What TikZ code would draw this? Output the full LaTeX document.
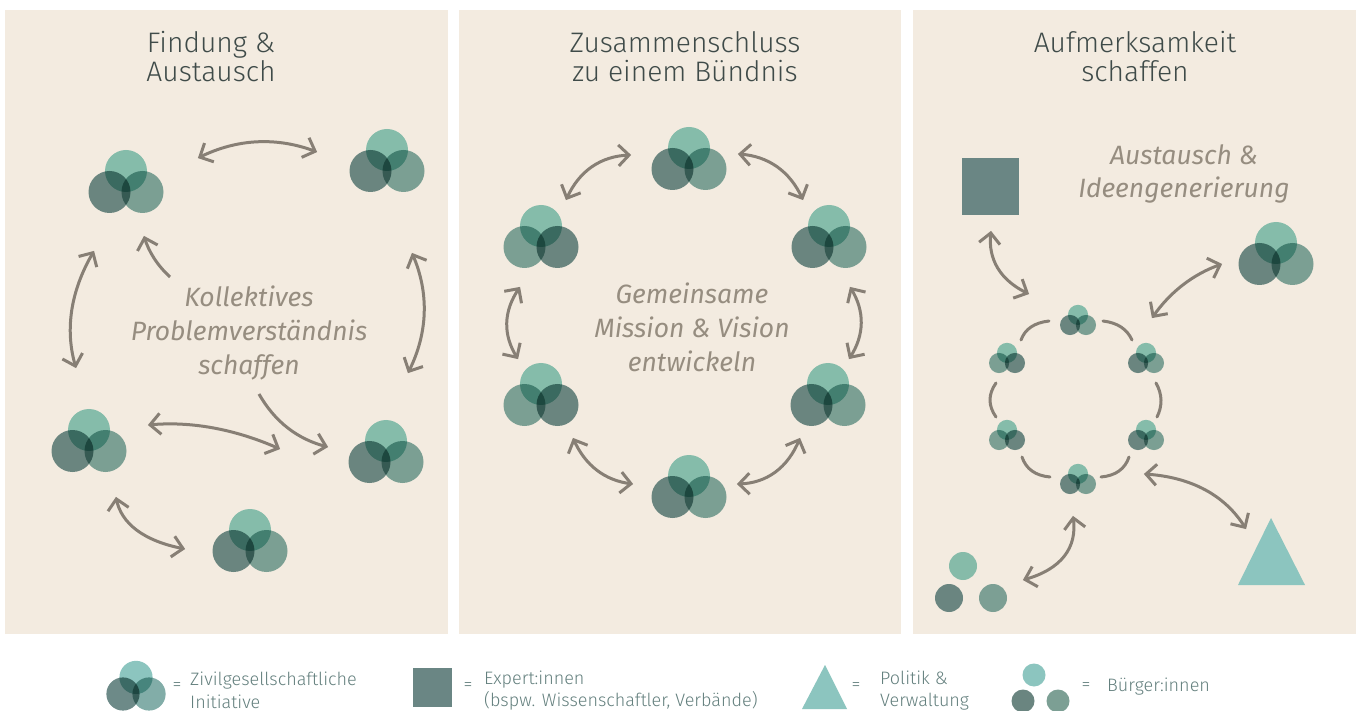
\documentclass[tikz,border=0pt]{standalone}
\usepackage{fontspec}
\setmainfont{Fira Sans Light}[ItalicFont={Fira Sans Italic}]
\usetikzlibrary{arrows.meta,calc}
\definecolor{panel}{HTML}{F3EBE0}
\definecolor{linkc}{HTML}{877F75}
\definecolor{titlec}{HTML}{3F4B49}
\definecolor{notec}{HTML}{968D80}
\definecolor{legc}{HTML}{64807E}
\definecolor{topc}{HTML}{8CCCC2}
\definecolor{darkc}{HTML}{709191}
\definecolor{midc}{HTML}{82ADA8}
\definecolor{ltop}{HTML}{8CC5BF}
\definecolor{lleft}{HTML}{6D8A88}
\definecolor{lright}{HTML}{82ADA8}
\definecolor{sqc}{HTML}{6A8684}
\definecolor{trc}{HTML}{8CC5BF}
\definecolor{cittop}{HTML}{86BBA9}
\definecolor{citleft}{HTML}{6A8580}
\definecolor{citright}{HTML}{7C9F94}
\pgfdeclarearrow{
 name=VHead,
 setup code={\pgfarrowssettipend{2pt}\pgfarrowssetlineend{0pt}\pgfarrowssetvisualbackend{-10pt}\pgfarrowssetbackend{-11pt}},
 drawing code={\pgfsetdash{}{0pt}\pgfsetmiterjoin\pgfsetbuttcap
  \pgfpathmoveto{\pgfpoint{-10.5pt}{10.5pt}}\pgfpathlineto{\pgfpoint{0pt}{0pt}}\pgfpathlineto{\pgfpoint{-10.5pt}{-10.5pt}}\pgfusepathqstroke},
 defaults={}
}
\tikzset{
 panelbox/.style={fill=panel,draw=none},
 link/.style={draw=linkc,line width=3pt},
 both/.style={link,{VHead}-{VHead}},
 onehead/.style={link,-{VHead}},
 smalllink/.style={link,line cap=round},
 ttl/.style={text=titlec,font=\fontsize{28.2}{29}\selectfont,align=center,inner sep=0pt,anchor=center},
 note/.style={text=notec,font=\fontsize{26.5}{33.7}\itshape\selectfont,align=center,inner sep=0pt,anchor=center},
 legt/.style={text=legc,font=\fontsize{18}{22.5}\selectfont,align=left,inner sep=0pt,anchor=west},
 lege/.style={text=legc,font=\fontsize{18}{22}\selectfont,inner sep=0pt,anchor=center},
}
\newcount\conncnt
\newcommand{\conn}[4]{%
 \global\advance\conncnt by 1
 \coordinate (s\the\conncnt) at (#2);
 \coordinate (m\the\conncnt) at (#3);
 \coordinate (e\the\conncnt) at (#4);
 \draw[#1] (s\the\conncnt) .. controls ($1.3333*(m\the\conncnt)-0.3333*(e\the\conncnt)$) and ($1.3333*(m\the\conncnt)-0.3333*(s\the\conncnt)$) .. (e\the\conncnt);
}
% #1 name, #2 x, #3 y, #4 scale, #5 top, #6 left, #7 right
\newcommand{\tri}[7]{%
 \node[circle,inner sep=0pt,minimum size=#4*58pt] (#1) at (#2,#3) {};
 \begin{scope}[blend mode=multiply]
 \fill[#5] (#2,#3-#4*21) circle[radius=#4*21];
 \fill[#6] (#2-#4*16.5,#3) circle[radius=#4*21];
 \fill[#7] (#2+#4*16.5,#3) circle[radius=#4*21];
 \end{scope}
}
\newcommand{\trid}[4]{\tri{#1}{#2}{#3}{#4}{topc}{darkc}{midc}}
\newcommand{\trim}[4]{\tri{#1}{#2}{#3}{#4}{topc}{midc}{darkc}}
\begin{document}
\begin{tikzpicture}[x=1pt,y=-1pt]
\useasboundingbox (0,0) rectangle (1361,711);
\fill[white] (0,0) rectangle (1361,711);
\node[panelbox,minimum width=443pt,minimum height=624pt,inner sep=0pt,anchor=north west] (p1) at (5,10) {};
\node[panelbox,minimum width=442pt,minimum height=624pt,inner sep=0pt,anchor=north west] (p2) at (459,10) {};
\node[panelbox,minimum width=443pt,minimum height=624pt,inner sep=0pt,anchor=north west] (p3) at (913,10) {};
\node[ttl] (t1) at (211,56.5) {Findung \&\\Austausch};
\node[ttl] (t2) at (685,56.5) {Zusammenschluss\\zu einem Bündnis};
\node[ttl] (t3) at (1135,56.5) {Aufmerksamkeit\\schaffen};
\node[note] (n1) at (249,333) {Kollektives\\Problemverständnis\\schaffen};
\node[note] (n2) at (692,327.5) {Gemeinsame\\Mission \& Vision\\entwickeln};
\node[note] (n3) at (1184,174) {Austausch \&\\Ideengenerierung};
\trid{a1}{126}{192}{1}
\trid{a2}{387}{171}{1}
\trid{a3}{89}{451}{1}
\trid{a4}{386}{462}{1}
\trid{a5}{250}{551}{1}
\conn{both}{198,158}{257,142}{317,152}
\conn{onehead}{170,277}{154,258}{144,236}
\conn{both}{94,251}{72,310}{76,368}
\conn{both}{412,253}{424,313}{408,373}
\conn{both}{148,425}{213,428}{280,449}
\conn{onehead}{259,394}{288,428}{328,447}
\conn{both}{116,497}{137,530}{185,549}
\trid{b1}{689}{169}{1}
\trid{b2}{829}{247}{1}
\trid{b3}{828}{405}{1}
\trid{b4}{689}{497}{1}
\trim{b5}{541}{405}{1}
\trim{b6}{541}{247}{1}
\conn{both}{566,200}{592,167}{631,155}
\conn{both}{738,154}{777,167}{803,200}
\conn{both}{520,287}{507,323}{518,359}
\conn{both}{850,287}{861,323}{849,359}
\conn{both}{573,438}{597,470}{633,484}
\conn{both}{800,438}{775,472}{737,484}
\node[fill=sqc,inner sep=0pt,minimum size=57pt,anchor=north west] (sq) at (962,158) {};
\trid{c0}{1276}{264}{1}
\fill[trc] (1271,518) -- (1305,585) -- (1238,585) -- cycle;
\fill[cittop] (963,566) circle[radius=14];
\fill[citleft] (949,598) circle[radius=14];
\fill[citright] (993,598) circle[radius=14];
\trid{c1}{1078}{325}{.48}
\trid{c2}{1146}{363}{.48}
\trid{c3}{1146}{440}{.48}
\trid{c4}{1078}{484}{.48}
\trim{c5}{1007}{440}{.48}
\trim{c6}{1007}{363}{.48}
\conn{smalllink}{1021,340}{1031,327}{1049,321}
\conn{smalllink}{1103,321}{1121,327}{1132,340}
\conn{smalllink}{1156,383}{1161,400}{1157,417}
\conn{smalllink}{1129,457}{1119,471}{1101,477}
\conn{smalllink}{1050,477}{1032,471}{1022,457}
\conn{smalllink}{996,417}{990,400}{996,383}
\conn{both}{991,231}{998,268}{1029,294}
\conn{both}{1222,264}{1183,285}{1152,318}
\conn{both}{1144,474}{1205,490}{1246,529}
\conn{both}{1073,516}{1064,556}{1023,580}
\tri{l1}{136}{694}{.79}{ltop}{lleft}{lright}
\node[lege] (e1) at (177,687) {=};
\node[legt] (l1t) at (190,690.5) {Zivilgesellschaftliche\\Initiative};
\node[fill=sqc,inner sep=0pt,minimum size=39pt,anchor=north west] (l2) at (413,668) {};
\node[lege] (e2) at (468,687) {=};
\node[legt] (l2t) at (484,690.5) {Expert:innen\\(bspw. Wissenschaftler, Verbände)};
\fill[trc] (825,665) -- (847,709) -- (802,709) -- cycle;
\node[lege] (e3) at (856,687) {=};
\node[legt] (l3t) at (880,690.5) {Politik \&\\Verwaltung};
\fill[trc] (1034,675) circle[radius=11.5];
\fill[citleft] (1023,701) circle[radius=11.5];
\fill[citright] (1058,701) circle[radius=11.5];
\node[lege] (e4) at (1086,687) {=};
\node[legt] (l4t) at (1107,687) {Bürger:innen};
\end{tikzpicture}
\end{document}
